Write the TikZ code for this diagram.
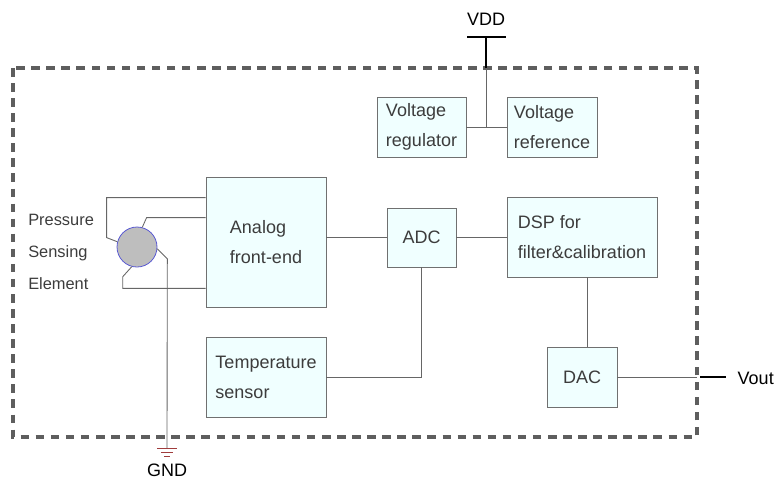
\documentclass[tikz,border=0pt]{standalone}
\usepackage{fontspec}
\setmainfont{Liberation Sans}
\usepackage{tikz}
\usetikzlibrary{positioning,calc}
\definecolor{boxFill}{HTML}{F0FFFF}
\definecolor{boxDraw}{HTML}{707070}
\definecolor{wireCol}{HTML}{666666}
\definecolor{textCol}{HTML}{3C3C3C}
\definecolor{frameCol}{HTML}{5E5E5E}
\definecolor{gndCol}{HTML}{A03C3C}
\definecolor{sensFill}{HTML}{BEBEBE}
\definecolor{sensDraw}{HTML}{5A5AD2}

\begin{document}
\begin{tikzpicture}[
  x=0.75pt, y=-0.75pt,
  font=\fontsize{13.5}{22.5}\selectfont,
  blk/.style={draw=boxDraw, line width=0.6pt, fill=boxFill, text=textCol,
              align=left, inner sep=0pt},
  wire/.style={draw=wireCol, line width=0.65pt},
  rail/.style={draw=black, line width=2.2pt},
  frame/.style={draw=frameCol, line width=2.4pt, dash pattern=on 6.4pt off 4.9pt},
  gnd/.style={draw=gndCol, line width=0.6pt},
  pin/.style={text=black},
]
\useasboundingbox (0,0) rectangle (780,480);

% ---- Frame ----
\draw[frame] (13,68) rectangle (697,437);

% ---- Blocks ----
\node[blk, minimum width=66.75pt, minimum height=45pt] (vreg) at (421.5,127) {Voltage\\regulator};
\node[blk, minimum width=67.5pt, minimum height=45pt]  (vref) at (552,127)   {Voltage\\reference};
\node[blk, minimum width=90pt, minimum height=97.5pt]  (afe)  at (266,242)   {Analog\\front-end};
\node[blk, minimum width=51.75pt, minimum height=44.25pt] (adc) at (421.5,237.5) {ADC};
\node[blk, minimum width=112.5pt, minimum height=60pt] (dsp)  at (582,237)   {DSP for\\filter\&calibration};
\node[blk, minimum width=90pt, minimum height=60pt]    (temp) at (266,377.5) {Temperature\\sensor};
\node[blk, minimum width=52.5pt, minimum height=45pt]  (dac)  at (582,377)   {DAC};

% ---- Sensing element ----
\node[circle, draw=sensDraw, line width=0.6pt, fill=sensFill, minimum size=30pt, inner sep=0pt]
  (sens) at (137,247) {};
\node[text=textCol, align=left, anchor=west, inner sep=0pt, font=\fontsize{12.3}{24}\selectfont]
  (psl) at (28,252) {Pressure\\Sensing\\Element};

% ---- Pins ----
\coordinate (vdd)  at (486,37);
\coordinate (vin)  at (486,68);
\coordinate (vout) at (697,377);
\coordinate (gnd)  at (167,448);
\node[pin] (vddl)  at (486,19)  {VDD};
\node[pin, anchor=west] (voutl) at (733,378) {Vout};
\node[pin] (gndl)  at (167,470) {GND};

% ---- Supply ----
\draw[rail] ($(vdd)+(-19,0)$) -- ($(vdd)+(20,0)$);
\draw[rail] (vdd) -- (vin);
\draw[wire] (vin) -- (vin |- vreg.east);
\draw[wire] (vreg) -- (vref);

% ---- Signal path ----
\draw[wire] (afe.east |- adc.west) -- (adc.west);
\draw[wire] (adc) -- (adc -| dsp.west);
\draw[wire] (adc.south) |- (temp.east);
\draw[wire] ($(dsp.south)+(5,0)$) -- ($(dac.north)+(5,0)$);
\draw[wire] (dac) -- (vout);
\draw[rail] ($(vout)+(3,0)$) -- ($(vout)+(29,0)$);

% ---- Sensor wiring ----
\draw[wire] ($(afe.north west)+(0,21)$) -- ++(-99,0) -- ++(0,40) -- (sens.165);
\draw[wire] ($(afe.north west)+(0,41)$) -- ++(-59,0) -- (sens.75);
\draw[wire] (sens.255) -- ++(-9,10) |- ($(afe.south west)+(0,-19)$);
\draw[wire] (sens.-5) -- ++(10,10) -- (gnd);

% ---- Ground ----
\draw[gnd] ($(gnd)+(-10,0)$) -- ($(gnd)+(10,0)$);
\draw[gnd] ($(gnd)+(-6,4)$) -- ($(gnd)+(6,4)$);
\draw[gnd] ($(gnd)+(-3,8)$) -- ($(gnd)+(3,8)$);

\end{tikzpicture}
\end{document}
